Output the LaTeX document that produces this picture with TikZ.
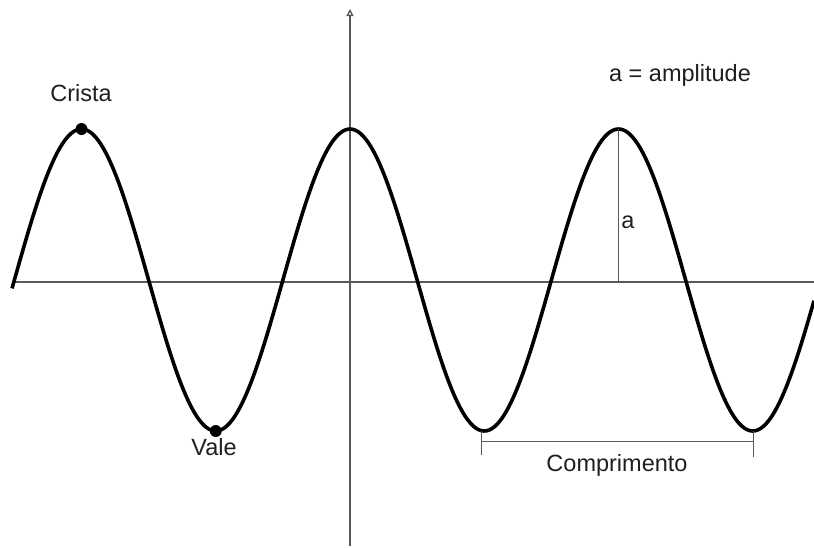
\documentclass[tikz,border=0pt]{standalone}
\usepackage{fontspec}
\setmainfont{Liberation Sans}
\usetikzlibrary{arrows.meta}
\begin{document}
\begin{tikzpicture}[x=1pt,y=-1pt,
  axis/.style={draw=black!65, line width=1.3pt},
  wave/.style={line width=3.6pt, black, line join=round},
  dot/.style={circle, fill=black, inner sep=0pt, minimum size=12pt},
  lbl/.style={font=\fontsize{23.5}{28}\selectfont, text=black!88, inner sep=0pt},
  thinline/.style={draw=black!65, line width=1pt}]
\useasboundingbox (0,0) rectangle (814,547);
\coordinate (xl) at (12,282);
\coordinate (xr) at (814,282);
\coordinate (yb) at (350,546);
\coordinate (yt) at (350,9);
\draw[axis] (xl) -- (xr);
\draw[axis, -{Triangle[open,length=7pt,width=7pt]}] (yb) -- (yt);
\draw[wave] plot[domain=12:814, samples=300, smooth] (\x, {280-151*cos(1.340782*(\x-350))});
\node[dot] (crest) at (81.5,129) {};
\node[dot] (trough) at (215.75,431) {};
\node[lbl] (crista) at (81,93) {Crista};
\node[lbl] (vale) at (214,447) {Vale};
\node[lbl] (ampdef) at (680,75) {a = amplitude};
\coordinate (ptop) at (618.5,129);
\coordinate (pbase) at (618.5,282);
\draw[thinline] (ptop) -- (pbase);
\node[lbl] (a) at (628,222) {a};
\coordinate (b1t) at (481,431);
\coordinate (b1b) at (481,455);
\coordinate (b2t) at (753,431);
\coordinate (b2b) at (753,457);
\coordinate (b1m) at (481,441);
\coordinate (b2m) at (753,441);
\draw[thinline] (b1t) -- (b1b);
\draw[thinline] (b2t) -- (b2b);
\draw[thinline] (b1m) -- (b2m);
\node[lbl] (comp) at (617,465) {Comprimento};
\end{tikzpicture}
\end{document}
